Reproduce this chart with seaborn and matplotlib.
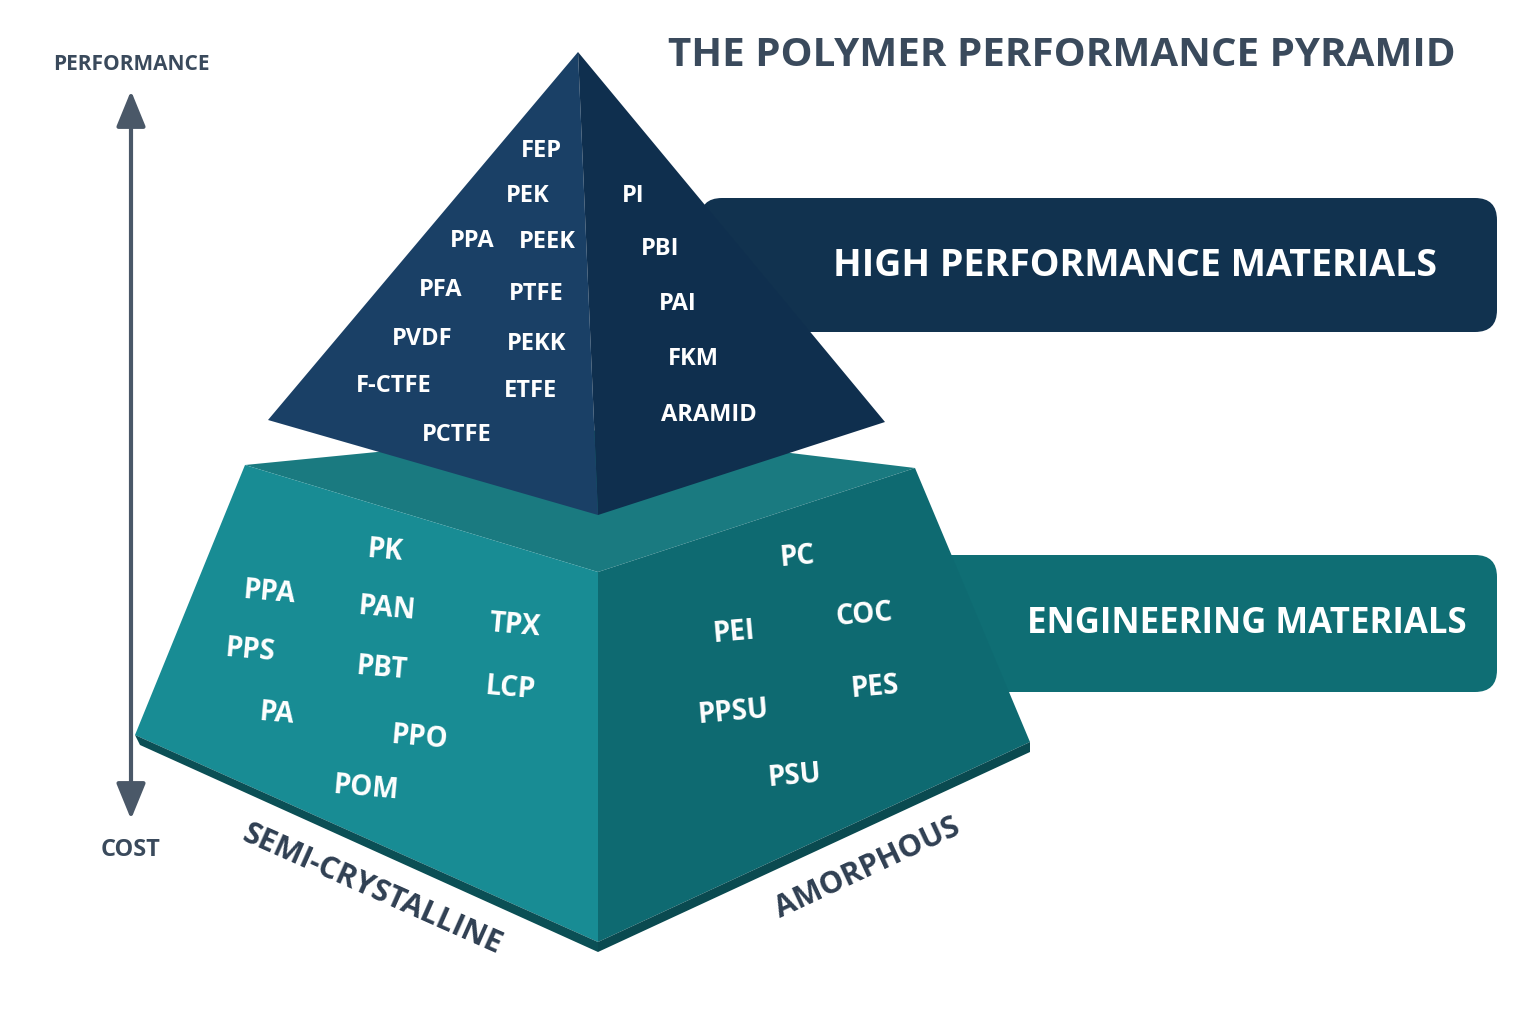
import matplotlib
matplotlib.use("Agg")
import matplotlib.pyplot as plt
import seaborn as sns
from matplotlib.patches import Polygon, FancyBboxPatch, FancyArrowPatch

sns.set_theme(style="white")
plt.rcParams['font.family'] = ['Open Sans', 'DejaVu Sans']

title = "THE POLYMER PERFORMANCE PYRAMID"
tiers = ["HIGH PERFORMANCE MATERIALS", "ENGINEERING MATERIALS"]
axis_labels = ["PERFORMANCE", "COST"]
base_labels = ["SEMI-CRYSTALLINE", "AMORPHOUS"]
hp_left = ["FEP", "PEK", "PPA", "PEEK", "PFA", "PTFE", "PVDF", "PEKK", "F-CTFE", "ETFE", "PCTFE"]
hp_right = ["PI", "PBI", "PAI", "FKM", "ARAMID"]
eng_left = ["PK", "PPA", "PAN", "TPX", "PPS", "PBT", "LCP", "PA", "PPO", "POM"]
eng_right = ["PC", "COC", "PEI", "PES", "PPSU", "PSU"]

hp_left_pos = [(541,151),(528,196),(472,241),(547,242),(441,290),(536,294),(422,339),(537,344),(394,386),(530,391),(457,435)]
hp_right_pos = [(633,196),(660,249),(678,304),(693,359),(709,415)]
eng_left_pos = [(385,551),(269,593),(387,609),(515,626),(250,651),(382,669),(510,689),(277,714),(419,738),(366,788)]
eng_right_pos = [(797,557),(864,615),(734,633),(875,687),(733,712),(795,776)]
eng_left_rot = [-5,-5,-5,-5,-5,-5,-5,-5,-5,-5]
eng_right_rot = [5,5,5,5,5,5]

fig = plt.figure(figsize=(15.36, 10.24), dpi=100)
ax = fig.add_axes([0, 0, 1, 1])
ax.set_xlim(0, 1536); ax.set_ylim(1024, 0); ax.axis("off")
fig.patch.set_facecolor("white")

# banners
ax.add_patch(FancyBboxPatch((700, 198), 797, 134, boxstyle="round,pad=0,rounding_size=22", fc="#11324f", ec="none", zorder=1))
ax.add_patch(FancyBboxPatch((930, 555), 567, 137, boxstyle="round,pad=0,rounding_size=22", fc="#0f6e74", ec="none", zorder=1))
ax.text(1135, 266, tiers[0], color="white", fontsize=27, fontweight="bold", ha="center", va="center", zorder=5)
ax.text(1247, 624, tiers[1], color="white", fontsize=25, fontweight="bold", ha="center", va="center", zorder=5)

# frustum
ax.add_patch(Polygon([(245,465),(598,572),(915,468),(600,430)], fc="#1a7a80", ec="none", zorder=2))
ax.add_patch(Polygon([(245,465),(598,572),(598,942),(135,735)], fc="#188c94", ec="none", zorder=2))
ax.add_patch(Polygon([(598,572),(915,468),(1030,742),(598,942)], fc="#0e6a71", ec="none", zorder=2))
ax.add_patch(Polygon([(135,735),(598,942),(598,952),(140,745)], fc="#0b4f55", ec="none", zorder=2))
ax.add_patch(Polygon([(598,942),(1030,742),(1030,752),(598,952)], fc="#0a4a50", ec="none", zorder=2))

# top pyramid
ax.add_patch(Polygon([(578,52),(268,420),(598,515)], fc="#1a4066", ec="none", zorder=3))
ax.add_patch(Polygon([(578,52),(598,515),(885,422)], fc="#0f2f4e", ec="none", zorder=3))

for names, pos, fs in [(hp_left, hp_left_pos, 17), (hp_right, hp_right_pos, 17)]:
    for n, (x, y) in zip(names, pos):
        ax.text(x, y, n, color="white", fontsize=fs, fontweight="bold", ha="center", va="center", zorder=5)
for n, (x, y), r in zip(eng_left, eng_left_pos, eng_left_rot):
    ax.text(x, y, n, color="white", fontsize=20, fontweight="bold", ha="center", va="center", rotation=r, zorder=5)
for n, (x, y), r in zip(eng_right, eng_right_pos, eng_right_rot):
    ax.text(x, y, n, color="white", fontsize=20, fontweight="bold", ha="center", va="center", rotation=r, zorder=5)

ax.text(372, 890, base_labels[0], color="#2f3f52", fontsize=22, fontweight="bold", ha="center", va="center", rotation=-24)
ax.text(868, 868, base_labels[1], color="#2f3f52", fontsize=22, fontweight="bold", ha="center", va="center", rotation=25)

# axis arrow
ax.add_patch(FancyArrowPatch((131, 822), (131, 88), arrowstyle="<|-|>,head_length=22,head_width=9", color="#4a5868", lw=3, mutation_scale=1))
ax.text(131, 65, axis_labels[0], color="#3a4a5c", fontsize=15, fontweight="bold", ha="center", va="center")
ax.text(131, 850, axis_labels[1], color="#3a4a5c", fontsize=17, fontweight="bold", ha="center", va="center")

ax.text(1062, 55, title, color="#3a4a5c", fontsize=29, fontweight="bold", ha="center", va="center")

fig.savefig("out.png", dpi=100)
